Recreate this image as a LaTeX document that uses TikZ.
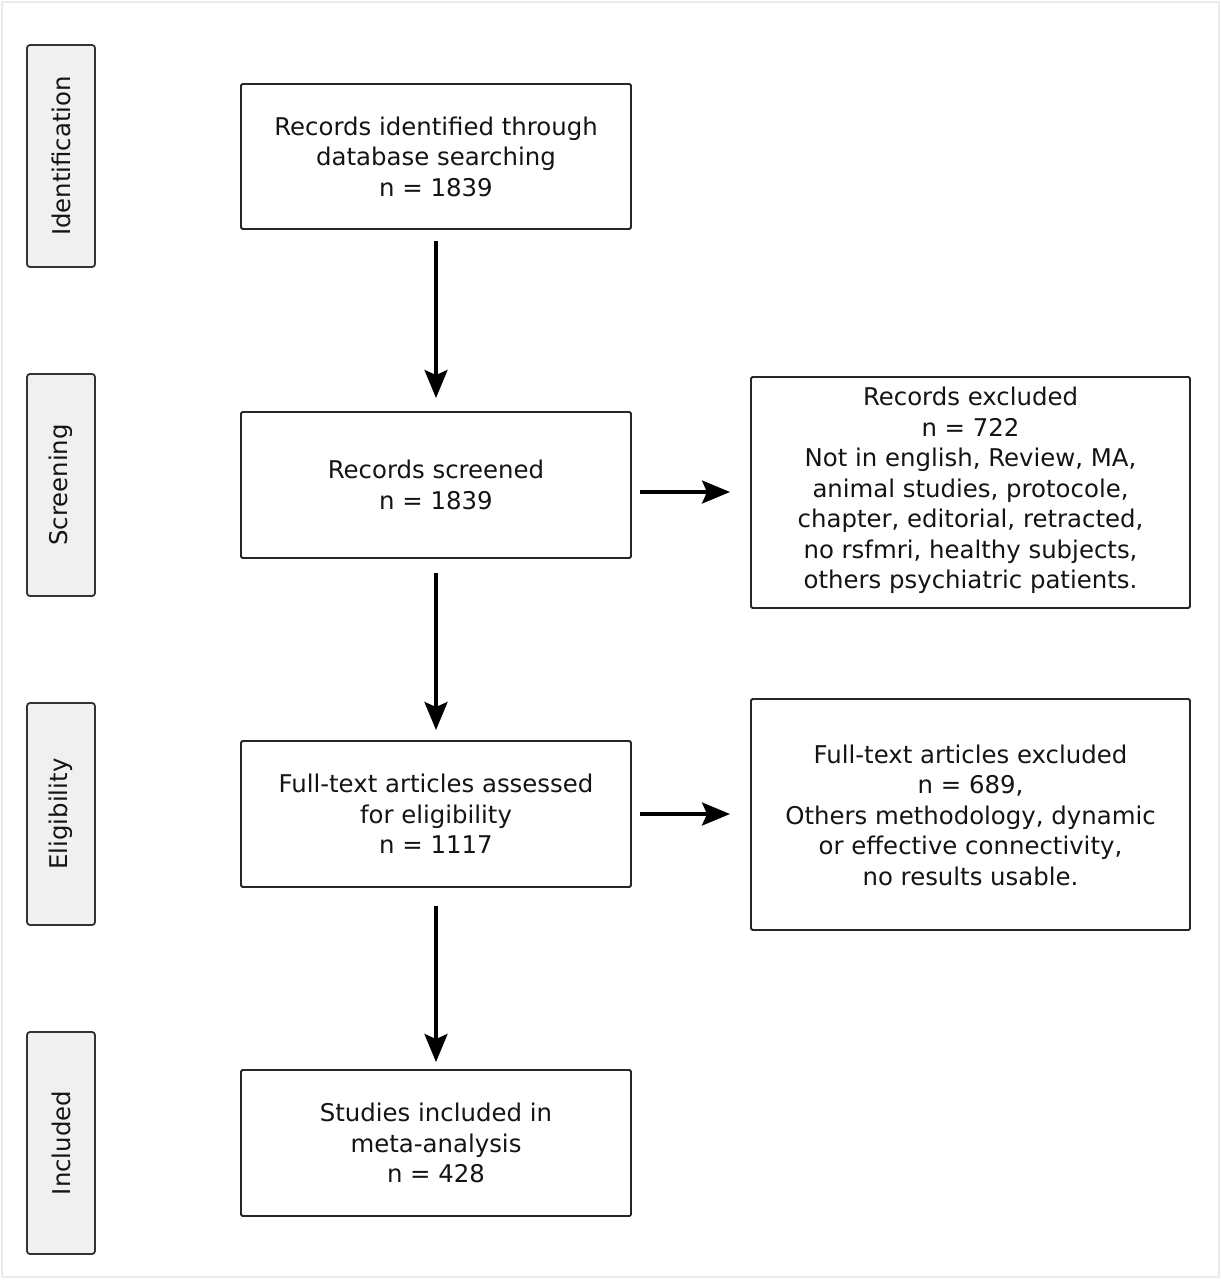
\documentclass[tikz,border=0pt]{standalone}
\usepackage{fontspec}
\setmainfont{DejaVu Sans}
\usetikzlibrary{arrows.meta}
\begin{document}
\begin{tikzpicture}[x=1pt,y=-1pt,
  txt/.style={font=\fontsize{24.4}{30.5}\selectfont, align=center, text=black!92},
  mainbox/.style={draw=black!85, line width=1.8pt, rounded corners=1.5pt, fill=white},
  phase/.style={draw=black!80, line width=1.8pt, rounded corners=3pt, fill=black!6},
  flow/.style={line width=3.2pt, -{Stealth[length=28pt,width=23pt,inset=5pt]}},
]
\useasboundingbox (0,0) rectangle (1222,1280);
\draw[black!8, line width=1.2pt] (2,2) rectangle (1219,1277);

% phase labels
\foreach \n/\t/\ya/\yb in {pid/Identification/45/267, psc/Screening/374/596, pel/Eligibility/703/925, pin/Included/1032/1254}{
  \draw[phase] (27,\ya) rectangle (95,\yb);
  \node[txt, rotate=90] (\n) at (61,{(\ya+\yb)/2}) {\t};
}

% main boxes
\draw[mainbox] (241,84) rectangle (631,229);
\node[txt] (b1) at (436,156.5) {Records identified through\\database searching\\n = 1839};
\draw[mainbox] (241,412) rectangle (631,558);
\node[txt] (b2) at (436,485) {Records screened\\n = 1839};
\draw[mainbox] (241,741) rectangle (631,887);
\node[txt] (b3) at (436,814) {Full-text articles assessed\\for eligibility\\n = 1117};
\draw[mainbox] (241,1070) rectangle (631,1216);
\node[txt] (b4) at (436,1143) {Studies included in\\meta-analysis\\n = 428};

\draw[mainbox] (751,377) rectangle (1190,608);
\node[txt] (ra) at (970.5,490.5) {Records excluded\\n = 722\\Not in english, Review, MA,\\animal studies, protocole,\\chapter, editorial, retracted,\\no rsfmri, healthy subjects,\\others psychiatric patients.};
\draw[mainbox] (751,699) rectangle (1190,930);
\node[txt] (rb) at (970.5,815) {Full-text articles excluded\\n = 689,\\Others methodology, dynamic\\or effective connectivity,\\no results usable.};

% arrows
\coordinate (a1s) at (436,241); \coordinate (a1e) at (436,398);
\coordinate (a2s) at (436,573); \coordinate (a2e) at (436,730);
\coordinate (a3s) at (436,906); \coordinate (a3e) at (436,1062);
\coordinate (h1s) at (640,492); \coordinate (h1e) at (730,492);
\coordinate (h2s) at (640,814); \coordinate (h2e) at (730,814);
\draw[flow] (a1s) -- (a1e);
\draw[flow] (a2s) -- (a2e);
\draw[flow] (a3s) -- (a3e);
\draw[flow] (h1s) -- (h1e);
\draw[flow] (h2s) -- (h2e);
\end{tikzpicture}
\end{document}
